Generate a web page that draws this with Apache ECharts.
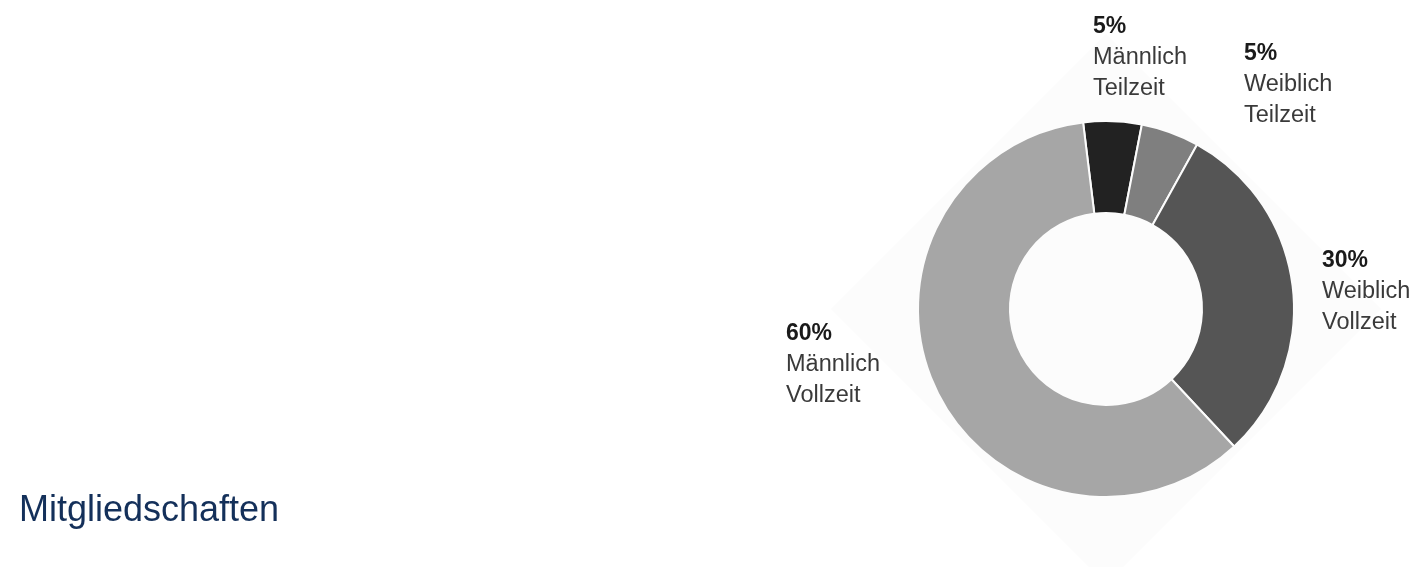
<!DOCTYPE html>
<html>
<head>
<meta charset="utf-8">
<script src="https://cdn.jsdelivr.net/npm/echarts@6/dist/echarts.min.js"></script>
<style>
html,body{margin:0;padding:0;background:#fff;}
#c{width:1410px;height:567px;}
</style>
</head>
<body>
<div id="c"></div>
<script>
// ---- data ----
const categories = ['Männlich Teilzeit', 'Weiblich Teilzeit', 'Weiblich Vollzeit', 'Männlich Vollzeit'];
const values = [5, 5, 30, 60];
const colors = ['#222222', '#7f7f7f', '#555555', '#a6a6a6'];
const title = 'Mitgliedschaften';

// ---- layout (positions of the label blocks, top-left corners) ----
const labelAnchors = [[1093, 8], [1244, 35], [1322, 242], [786, 315]];
const cx = 1106, cy = 309;

const chart = echarts.init(document.getElementById('c'), null, {renderer: 'canvas'});
const font = '"Liberation Sans", Arial, Helvetica, sans-serif';

chart.setOption({
  animation: false,
  backgroundColor: '#ffffff',
  graphic: [
    {
      type: 'polygon', z: -10, silent: true,
      shape: {points: [[cx, cy - 275], [cx + 275, cy], [cx, cy + 275], [cx - 275, cy]]},
      style: {fill: '#fcfcfc'}
    },
    {
      type: 'text', left: 19, top: 493, silent: true,
      style: {text: title, fontFamily: font, fontSize: 36, fill: '#14305a'}
    }
  ],
  series: [{
    type: 'pie',
    silent: true,
    center: [cx, cy],
    radius: [96, 188],
    startAngle: 97,
    clockwise: true,
    avoidLabelOverlap: false,
    data: categories.map((n, i) => ({name: n, value: values[i], itemStyle: {color: colors[i]}})),
    itemStyle: {borderColor: '#fcfcfc', borderWidth: 2},
    labelLine: {show: false},
    label: {
      show: true,
      position: 'outside',
      formatter: p => '{p|' + p.value + '%}\n{n|' + p.name.split(' ').join('}\n{n|') + '}',
      rich: {
        p: {fontFamily: font, fontSize: 23, fontWeight: 'bold', color: '#1a1a1a', lineHeight: 31},
        n: {fontFamily: font, fontSize: 23.5, color: '#3a3a3a', lineHeight: 31}
      }
    },
    labelLayout: p => ({
      x: labelAnchors[p.dataIndex][0],
      y: labelAnchors[p.dataIndex][1] + 3,
      align: 'left',
      verticalAlign: 'top'
    })
  }]
});
</script>
</body>
</html>
